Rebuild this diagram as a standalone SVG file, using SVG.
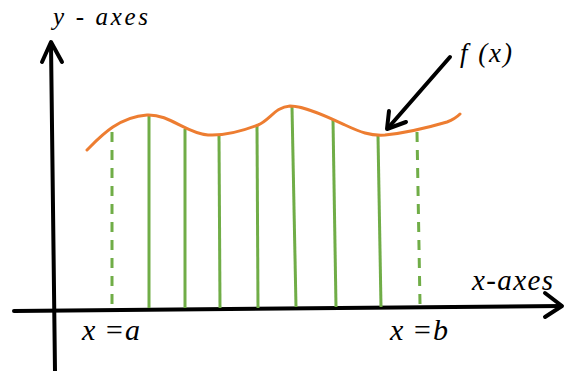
<svg xmlns="http://www.w3.org/2000/svg" width="567" height="371" viewBox="0 0 567 371">
<style>
.ax{fill:none;stroke:#000;stroke-width:4;stroke-linecap:round;stroke-linejoin:round}
.g{stroke:#70AD47;stroke-width:3;fill:none}
.gd{stroke:#70AD47;stroke-width:3;fill:none;stroke-dasharray:10 8}
.c{fill:none;stroke:#ED7D31;stroke-width:3;stroke-linecap:round}
text{font-family:'Liberation Serif','Times New Roman',serif;font-style:italic;fill:#000}
</style>
<rect width="567" height="371" fill="#fff"/>
<g id="connectors">
<path class="ax" d="M55,371 L51,44"/>
<path class="ax" d="M42,62 L51,42 L62,62"/>
<path class="ax" d="M14,311 L561,306"/>
<path class="ax" d="M545,293 L562,306 L545,317"/>
<path class="ax" d="M450,57 L388,128"/>
<path class="ax" d="M389,111 L387,129 L406,122"/>
</g>
<g id="strips">
<path class="gd" d="M112,132 L112,304"/>
<path class="g" d="M149,116 L149,308"/>
<path class="g" d="M185,129 L185,308"/>
<path class="g" d="M219,135 L220,308"/>
<path class="g" d="M257,126 L258,308"/>
<path class="g" d="M292,107 L296,307"/>
<path class="g" d="M333,120 L336,307"/>
<path class="g" d="M378,136 L381,307"/>
<path class="gd" d="M417,132 L420,304"/>
</g>
<g id="curve">
<path class="c" d="M87,150 C100,137 118,117 147,115 C170,114 185,133 208,135 C225,136 245,130 258,125 C270,120 275,107 290,106 C305,106 330,118 345,125 C360,132 370,136 385,135 C405,133 430,127 447,122 C455,119 458,116 460,114"/>
</g>
<g id="labels">
<text x="53" y="25" font-size="25" textLength="95" lengthAdjust="spacing">y - axes</text>
<text x="472" y="290" font-size="29" textLength="81" lengthAdjust="spacing">x-axes</text>
<text x="82" y="340" font-size="30" textLength="58" lengthAdjust="spacing">x =a</text>
<text x="390" y="340" font-size="30" textLength="58" lengthAdjust="spacing">x =b</text>
<text x="460" y="62" font-size="27" textLength="52" lengthAdjust="spacing">f (x)</text>
</g>
</svg>
